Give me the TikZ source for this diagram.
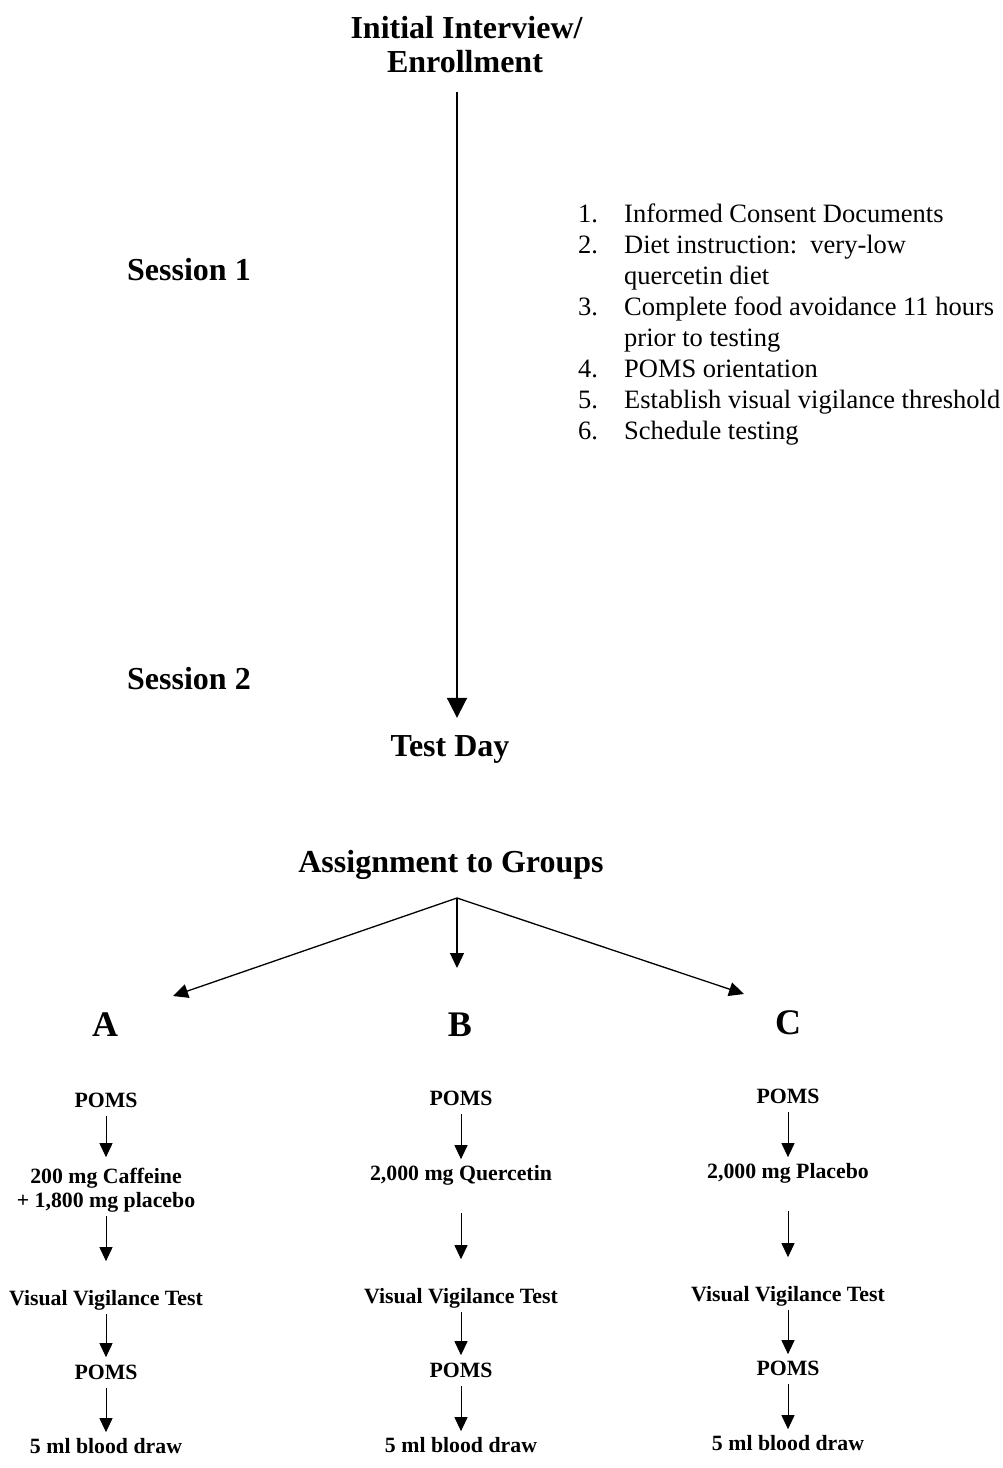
\documentclass[tikz,border=0pt]{standalone}
\usepackage{fontspec}
\setmainfont{Liberation Serif}
\usetikzlibrary{arrows.meta}
\begin{document}
\begin{tikzpicture}[x=1pt,y=-1pt,
  title/.style={font=\fontsize{32}{38}\selectfont\bfseries,inner sep=0pt,text height=22.4pt,text depth=6.4pt},
  grp/.style={font=\fontsize{36}{42}\selectfont\bfseries,inner sep=0pt,text height=25pt,text depth=7pt},
  lbl/.style={font=\fontsize{21.8}{26}\selectfont\bfseries,inner sep=0pt,text height=15pt,text depth=4.3pt},
  item/.style={font=\fontsize{26.5}{31}\selectfont,inner sep=0pt,anchor=base west},
  bigarr/.style={line width=2pt,-{Triangle[width=20pt,length=20pt]}},
  brarr/.style={line width=1.3pt,-{Triangle[width=14pt,length=15pt]}},
  smarr/.style={line width=1pt,-{Triangle[width=13pt,length=14pt]},shorten <=4.5pt,shorten >=6pt},
  longarr/.style={smarr,shorten <=28pt,shorten >=29pt}]
\useasboundingbox (0,0) rectangle (1003,1468);

% top part
\node[title] (init) at (466.5,30) {Initial Interview/};
\node[title] (enroll) at (465,64) {Enrollment};
\node[title] (s1) at (189,272) {Session 1};
\node[title] (s2) at (189,681) {Session 2};
\node[title] (test) at (450,748) {Test Day};
\coordinate (apex) at (457,898);
\draw[bigarr,shorten <=13.6pt,shorten >=15.6pt] (enroll.south -| apex) -- (test.north -| apex);

% list
\node[item] (n1) at (578,222.5) {1.};
\node[item] (t1) at (624,222.5) {Informed Consent Documents};
\node[item] (n2) at (578,253.5) {2.};
\node[item] (t2) at (624,253.5) {Diet instruction:\ \ very-low};
\node[item] (t2b) at (624,284.5) {quercetin diet};
\node[item] (n3) at (578,315.5) {3.};
\node[item] (t3) at (624,315.5) {Complete food avoidance 11 hours};
\node[item] (t3b) at (624,346.5) {prior to testing};
\node[item] (n4) at (578,377.5) {4.};
\node[item] (t4) at (624,377.5) {POMS orientation};
\node[item] (n5) at (578,408.5) {5.};
\node[item] (t5) at (624,408.5) {Establish visual vigilance threshold};
\node[item] (n6) at (578,439.5) {6.};
\node[item] (t6) at (624,439.5) {Schedule testing};

% assignment
\node[title] (assign) at (451,864) {Assignment to Groups};
\coordinate (endA) at (173,996);
\coordinate (endB) at (457,968);
\coordinate (endC) at (744,994);
\draw[brarr] (apex) -- (endA);
\draw[brarr] (apex) -- (endB);
\draw[brarr] (apex) -- (endC);
\node[grp] (A) at (105,1027) {A};
\node[grp] (B) at (460,1027) {B};
\node[grp] (C) at (788,1025) {C};

% column A
\node[lbl] (pomsA) at (106,1102) {POMS};
\node[lbl] (cafA1) at (106,1178) {200 mg Caffeine};
\node[lbl] (cafA2) at (106,1202) {+ 1,800 mg placebo};
\node[lbl] (vvtA) at (106,1300) {Visual Vigilance Test};
\node[lbl] (pomsA2) at (106,1374) {POMS};
\node[lbl] (bloodA) at (106,1448) {5 ml blood draw};
\draw[smarr,shorten >=11pt] (pomsA) -- (cafA1);
\draw[smarr,shorten >=29pt] (cafA2) -- (vvtA);
\draw[smarr,shorten >=7pt] (vvtA) -- (pomsA2);
\draw[smarr] (pomsA2) -- (bloodA);

% column B
\node[lbl] (pomsB) at (461,1100) {POMS};
\node[lbl] (querB) at (461,1175) {2,000 mg Quercetin};
\node[lbl] (vvtB) at (461,1298) {Visual Vigilance Test};
\node[lbl] (pomsB2) at (461,1372) {POMS};
\node[lbl] (bloodB) at (461,1447) {5 ml blood draw};
\draw[smarr] (pomsB) -- (querB);
\draw[longarr] (querB) -- (vvtB);
\draw[smarr,shorten >=7pt] (vvtB) -- (pomsB2);
\draw[smarr] (pomsB2) -- (bloodB);

% column C
\node[lbl] (pomsC) at (788,1098) {POMS};
\node[lbl] (placC) at (788,1173) {2,000 mg Placebo};
\node[lbl] (vvtC) at (788,1296) {Visual Vigilance Test};
\node[lbl] (pomsC2) at (788,1370) {POMS};
\node[lbl] (bloodC) at (788,1445) {5 ml blood draw};
\draw[smarr] (pomsC) -- (placC);
\draw[longarr] (placC) -- (vvtC);
\draw[smarr] (vvtC) -- (pomsC2);
\draw[smarr] (pomsC2) -- (bloodC);
\end{tikzpicture}
\end{document}
